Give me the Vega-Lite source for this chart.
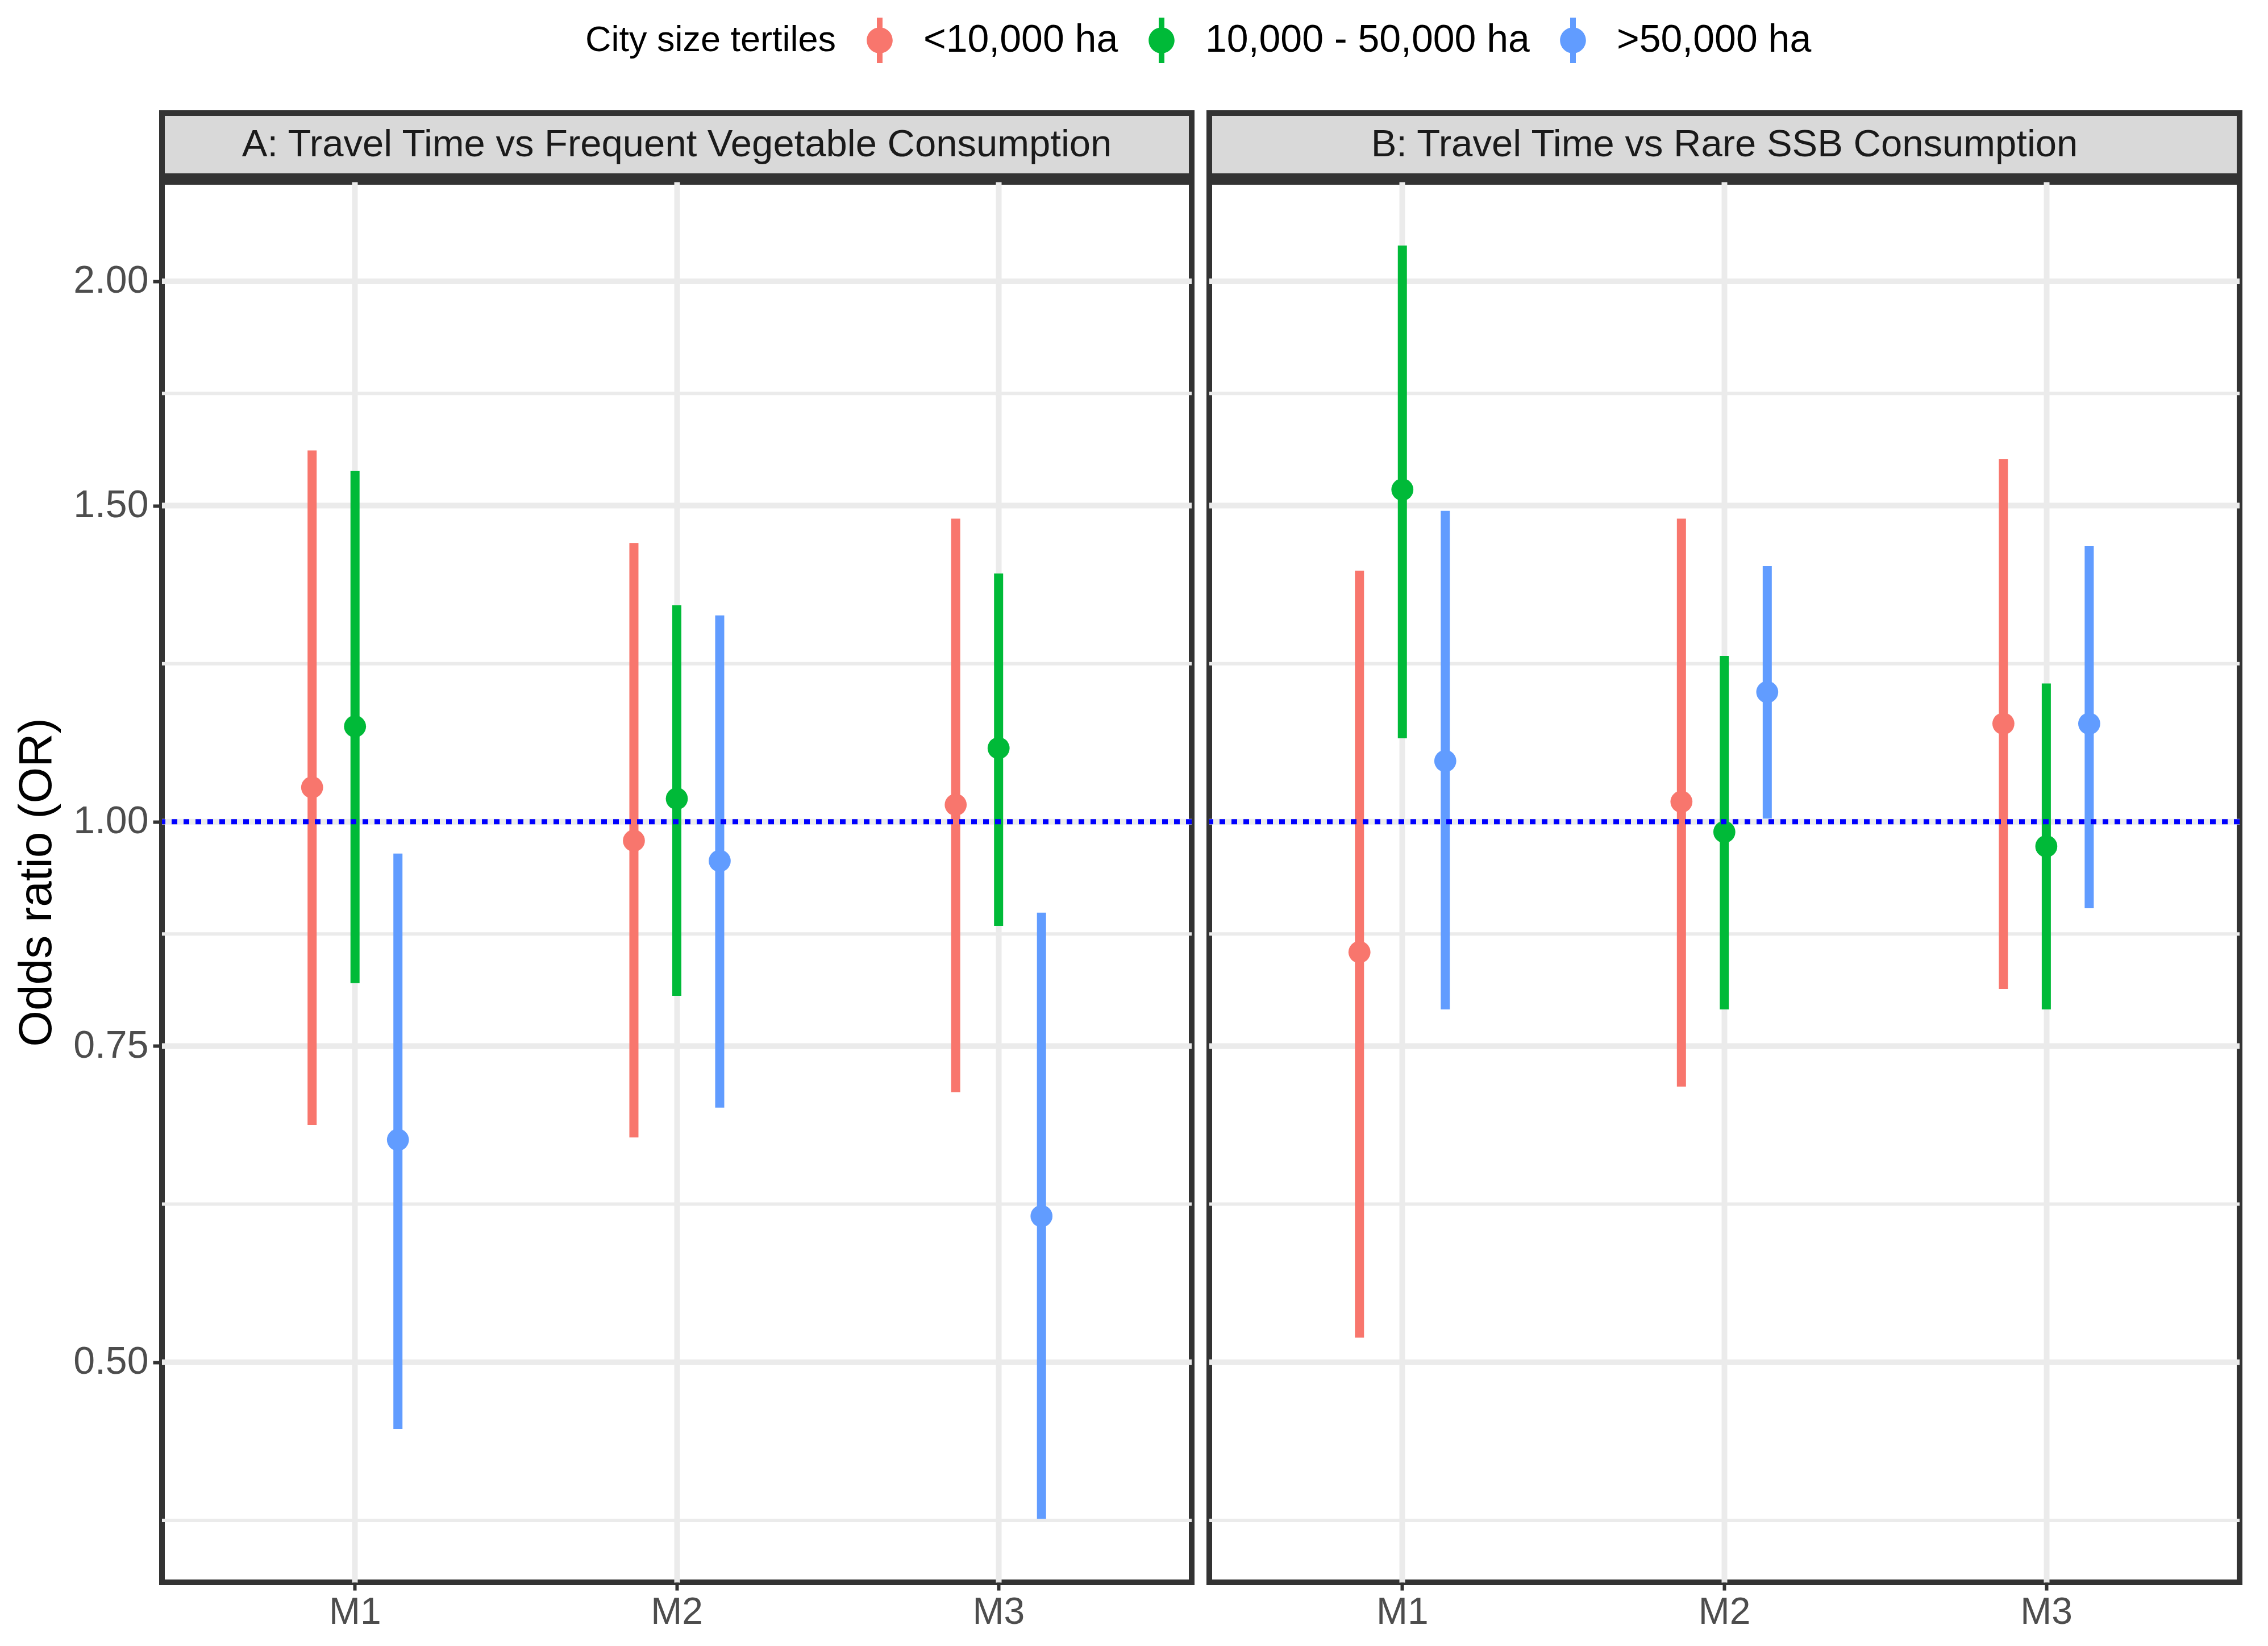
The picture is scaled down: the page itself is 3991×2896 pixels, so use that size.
{
  "$schema": "https://vega.github.io/schema/vega-lite/v6.json",
  "padding": {"left": 18, "top": 31, "right": 30, "bottom": 5},
  "background": "white",
  "datasets": {
    "est": [
      {"panel": "A", "model": "M1", "group": "<10,000 ha", "or": 1.045, "lo": 0.678, "hi": 1.61},
      {"panel": "A", "model": "M1", "group": "10,000 - 50,000 ha", "or": 1.13, "lo": 0.813, "hi": 1.568},
      {"panel": "A", "model": "M1", "group": ">50,000 ha", "or": 0.665, "lo": 0.459, "hi": 0.96},
      {"panel": "A", "model": "M2", "group": "<10,000 ha", "or": 0.976, "lo": 0.667, "hi": 1.43},
      {"panel": "A", "model": "M2", "group": "10,000 - 50,000 ha", "or": 1.03, "lo": 0.8, "hi": 1.32},
      {"panel": "A", "model": "M2", "group": ">50,000 ha", "or": 0.951, "lo": 0.693, "hi": 1.303},
      {"panel": "A", "model": "M3", "group": "<10,000 ha", "or": 1.022, "lo": 0.707, "hi": 1.475},
      {"panel": "A", "model": "M3", "group": "10,000 - 50,000 ha", "or": 1.099, "lo": 0.875, "hi": 1.375},
      {"panel": "A", "model": "M3", "group": ">50,000 ha", "or": 0.603, "lo": 0.409, "hi": 0.89},
      {"panel": "B", "model": "M1", "group": "<10,000 ha", "or": 0.846, "lo": 0.516, "hi": 1.38},
      {"panel": "B", "model": "M1", "group": "10,000 - 50,000 ha", "or": 1.531, "lo": 1.113, "hi": 2.094},
      {"panel": "B", "model": "M1", "group": ">50,000 ha", "or": 1.081, "lo": 0.786, "hi": 1.49},
      {"panel": "B", "model": "M2", "group": "<10,000 ha", "or": 1.026, "lo": 0.712, "hi": 1.475},
      {"panel": "B", "model": "M2", "group": "10,000 - 50,000 ha", "or": 0.987, "lo": 0.786, "hi": 1.237},
      {"panel": "B", "model": "M2", "group": ">50,000 ha", "or": 1.181, "lo": 1.004, "hi": 1.388},
      {"panel": "B", "model": "M3", "group": "<10,000 ha", "or": 1.134, "lo": 0.807, "hi": 1.592},
      {"panel": "B", "model": "M3", "group": "10,000 - 50,000 ha", "or": 0.969, "lo": 0.786, "hi": 1.194},
      {"panel": "B", "model": "M3", "group": ">50,000 ha", "or": 1.134, "lo": 0.895, "hi": 1.424}
    ],
    "grid": [
      {"v": 0.4082, "kind": "minor"},
      {"v": 0.5, "kind": "major"},
      {"v": 0.6124, "kind": "minor"},
      {"v": 0.75, "kind": "major"},
      {"v": 0.866, "kind": "minor"},
      {"v": 1.0, "kind": "major"},
      {"v": 1.2247, "kind": "minor"},
      {"v": 1.5, "kind": "major"},
      {"v": 1.7321, "kind": "minor"},
      {"v": 2.0, "kind": "major"}
    ],
    "ref": [{"v": 1.0}],
    "stripA": [{"label": "A: Travel Time vs Frequent Vegetable Consumption"}],
    "stripB": [{"label": "B: Travel Time vs Rare SSB Consumption"}]
  },
  "spacing": 11,
  "hconcat": [
    {
      "spacing": 0,
      "vconcat": [
        {
          "width": 1812, "height": 111,
          "view": {"fill": "#d9d9d9", "stroke": "#333333", "strokeWidth": 10},
          "data": {"name": "stripA"},
          "mark": {"type": "text", "fontSize": 67, "color": "#1a1a1a", "font": "Liberation Sans", "baseline": "middle"},
          "encoding": {"text": {"field": "label", "type": "nominal"}}
        },
        {
          "width": 1812, "height": 2464,
          "view": {"fill": "white", "stroke": "#333333", "strokeWidth": 10},
          "layer": [
            {
              "data": {"name": "grid"},
              "mark": {"type": "rule", "color": "#ebebeb"},
              "encoding": {
                "y": {"field": "v", "type": "quantitative", "scale": {"type": "log", "domain": [0.377, 2.272], "nice": false, "zero": false},
                  "axis": {"values": [0.5, 0.75, 1, 1.5, 2], "format": ".2f", "title": "Odds ratio (OR)", "grid": false, "domain": false,
                    "labelFontSize": 68, "labelColor": "#4d4d4d", "labelPadding": 8, "tickSize": 16, "tickWidth": 6, "tickColor": "#333333",
                    "titleFontSize": 82, "titleFontWeight": "normal", "titleColor": "black", "titlePadding": 22}},
                "strokeWidth": {"condition": {"test": "datum.kind === 'major'", "value": 10}, "value": 6}
              }
            },
            {
              "data": {"name": "est"},
              "transform": [{"filter": "datum.panel === 'A'"}],
              "mark": {"type": "rule", "strokeWidth": 16},
              "encoding": {
                "x": {"field": "model", "type": "nominal", "scale": {"type": "band", "paddingInner": 0, "paddingOuter": 0.1},
                  "axis": {"title": null, "labelAngle": 0, "labelFontSize": 66, "labelColor": "#4d4d4d", "labelPadding": 6, "tickSize": 14, "tickWidth": 6, "tickColor": "#333333", "domain": false, "grid": true, "gridColor": "#ebebeb", "gridWidth": 10, "bandPosition": 0.5}},
                "xOffset": {"field": "group", "type": "nominal", "scale": {"type": "point", "padding": 0, "domain": ["<10,000 ha", "10,000 - 50,000 ha", ">50,000 ha"], "range": [207.6, 358.6]}},
                "y": {"field": "lo", "type": "quantitative",
                  "axis": {"values": [0.5, 0.75, 1, 1.5, 2], "format": ".2f", "title": "Odds ratio (OR)", "grid": false, "domain": false,
                    "labelFontSize": 68, "labelColor": "#4d4d4d", "labelPadding": 8, "tickSize": 16, "tickWidth": 6, "tickColor": "#333333",
                    "titleFontSize": 82, "titleFontWeight": "normal", "titleColor": "black", "titlePadding": 22}},
                "y2": {"field": "hi"},
                "color": {"field": "group", "type": "nominal", "scale": {"domain": ["<10,000 ha", "10,000 - 50,000 ha", ">50,000 ha"], "range": ["#F8766D", "#00BA38", "#619CFF"]},
                  "legend": {"title": "City size tertiles", "orient": "none", "legendX": 745, "legendY": -168, "direction": "horizontal", "titleOrient": "left", "titleFontSize": 63, "titleFontWeight": "normal", "titleColor": "black", "titleBaseline": "middle", "titleLimit": 2000, "labelLimit": 2000, "labelFontSize": 68, "labelColor": "black", "symbolType": "M-0.125,-1L0.125,-1L0.125,1L-0.125,1Z M0.57,0A0.57,0.57,0,1,1,-0.57,0A0.57,0.57,0,1,1,0.57,0Z", "symbolSize": 6400, "symbolStrokeWidth": 0, "symbolOpacity": 1, "labelOffset": 37, "columnPadding": 36, "titlePadding": 36}}
              }
            },
            {
              "data": {"name": "est"},
              "transform": [{"filter": "datum.panel === 'A'"}],
              "mark": {"type": "point", "filled": true, "size": 1500, "opacity": 1, "strokeWidth": 0},
              "encoding": {
                "x": {"field": "model", "type": "nominal", "scale": {"type": "band", "paddingInner": 0, "paddingOuter": 0.1},
                  "axis": {"title": null, "labelAngle": 0, "labelFontSize": 66, "labelColor": "#4d4d4d", "labelPadding": 6, "tickSize": 14, "tickWidth": 6, "tickColor": "#333333", "domain": false, "grid": true, "gridColor": "#ebebeb", "gridWidth": 10, "bandPosition": 0.5}},
                "xOffset": {"field": "group", "type": "nominal", "scale": {"type": "point", "padding": 0, "domain": ["<10,000 ha", "10,000 - 50,000 ha", ">50,000 ha"], "range": [207.6, 358.6]}},
                "y": {"field": "or", "type": "quantitative",
                  "axis": {"values": [0.5, 0.75, 1, 1.5, 2], "format": ".2f", "title": "Odds ratio (OR)", "grid": false, "domain": false,
                    "labelFontSize": 68, "labelColor": "#4d4d4d", "labelPadding": 8, "tickSize": 16, "tickWidth": 6, "tickColor": "#333333",
                    "titleFontSize": 82, "titleFontWeight": "normal", "titleColor": "black", "titlePadding": 22}},
                "color": {"field": "group", "type": "nominal", "scale": {"domain": ["<10,000 ha", "10,000 - 50,000 ha", ">50,000 ha"], "range": ["#F8766D", "#00BA38", "#619CFF"]},
                  "legend": {"title": "City size tertiles", "orient": "none", "legendX": 745, "legendY": -168, "direction": "horizontal", "titleOrient": "left", "titleFontSize": 63, "titleFontWeight": "normal", "titleColor": "black", "titleBaseline": "middle", "titleLimit": 2000, "labelLimit": 2000, "labelFontSize": 68, "labelColor": "black", "symbolType": "M-0.125,-1L0.125,-1L0.125,1L-0.125,1Z M0.57,0A0.57,0.57,0,1,1,-0.57,0A0.57,0.57,0,1,1,0.57,0Z", "symbolSize": 6400, "symbolStrokeWidth": 0, "symbolOpacity": 1, "labelOffset": 37, "columnPadding": 36, "titlePadding": 36}}
              }
            },
            {
              "data": {"name": "ref"},
              "mark": {"type": "rule", "color": "#0000ff", "strokeWidth": 9, "strokeDash": [10, 11]},
              "encoding": {
                "y": {"field": "v", "type": "quantitative",
                  "axis": {"values": [0.5, 0.75, 1, 1.5, 2], "format": ".2f", "title": "Odds ratio (OR)", "grid": false, "domain": false,
                    "labelFontSize": 68, "labelColor": "#4d4d4d", "labelPadding": 8, "tickSize": 16, "tickWidth": 6, "tickColor": "#333333",
                    "titleFontSize": 82, "titleFontWeight": "normal", "titleColor": "black", "titlePadding": 22}}
              }
            }
          ]
        }
      ]
    },
    {
      "spacing": 0,
      "vconcat": [
        {
          "width": 1813, "height": 111,
          "view": {"fill": "#d9d9d9", "stroke": "#333333", "strokeWidth": 10},
          "data": {"name": "stripB"},
          "mark": {"type": "text", "fontSize": 67, "color": "#1a1a1a", "font": "Liberation Sans", "baseline": "middle"},
          "encoding": {"text": {"field": "label", "type": "nominal"}}
        },
        {
          "width": 1813, "height": 2464,
          "view": {"fill": "white", "stroke": "#333333", "strokeWidth": 10},
          "layer": [
            {
              "data": {"name": "grid"},
              "mark": {"type": "rule", "color": "#ebebeb"},
              "encoding": {
                "y": {"field": "v", "type": "quantitative", "scale": {"type": "log", "domain": [0.377, 2.272], "nice": false, "zero": false}, "axis": null},
                "strokeWidth": {"condition": {"test": "datum.kind === 'major'", "value": 10}, "value": 6}
              }
            },
            {
              "data": {"name": "est"},
              "transform": [{"filter": "datum.panel === 'B'"}],
              "mark": {"type": "rule", "strokeWidth": 16},
              "encoding": {
                "x": {"field": "model", "type": "nominal", "scale": {"type": "band", "paddingInner": 0, "paddingOuter": 0.1},
                  "axis": {"title": null, "labelAngle": 0, "labelFontSize": 66, "labelColor": "#4d4d4d", "labelPadding": 6, "tickSize": 14, "tickWidth": 6, "tickColor": "#333333", "domain": false, "grid": true, "gridColor": "#ebebeb", "gridWidth": 10, "bandPosition": 0.5}},
                "xOffset": {"field": "group", "type": "nominal", "scale": {"type": "point", "padding": 0, "domain": ["<10,000 ha", "10,000 - 50,000 ha", ">50,000 ha"], "range": [207.7, 358.7]}},
                "y": {"field": "lo", "type": "quantitative", "axis": null},
                "y2": {"field": "hi"},
                "color": {"field": "group", "type": "nominal", "scale": {"domain": ["<10,000 ha", "10,000 - 50,000 ha", ">50,000 ha"], "range": ["#F8766D", "#00BA38", "#619CFF"]},
                  "legend": {"title": "City size tertiles", "orient": "none", "legendX": 745, "legendY": -168, "direction": "horizontal", "titleOrient": "left", "titleFontSize": 63, "titleFontWeight": "normal", "titleColor": "black", "titleBaseline": "middle", "titleLimit": 2000, "labelLimit": 2000, "labelFontSize": 68, "labelColor": "black", "symbolType": "M-0.125,-1L0.125,-1L0.125,1L-0.125,1Z M0.57,0A0.57,0.57,0,1,1,-0.57,0A0.57,0.57,0,1,1,0.57,0Z", "symbolSize": 6400, "symbolStrokeWidth": 0, "symbolOpacity": 1, "labelOffset": 37, "columnPadding": 36, "titlePadding": 36}}
              }
            },
            {
              "data": {"name": "est"},
              "transform": [{"filter": "datum.panel === 'B'"}],
              "mark": {"type": "point", "filled": true, "size": 1500, "opacity": 1, "strokeWidth": 0},
              "encoding": {
                "x": {"field": "model", "type": "nominal", "scale": {"type": "band", "paddingInner": 0, "paddingOuter": 0.1},
                  "axis": {"title": null, "labelAngle": 0, "labelFontSize": 66, "labelColor": "#4d4d4d", "labelPadding": 6, "tickSize": 14, "tickWidth": 6, "tickColor": "#333333", "domain": false, "grid": true, "gridColor": "#ebebeb", "gridWidth": 10, "bandPosition": 0.5}},
                "xOffset": {"field": "group", "type": "nominal", "scale": {"type": "point", "padding": 0, "domain": ["<10,000 ha", "10,000 - 50,000 ha", ">50,000 ha"], "range": [207.7, 358.7]}},
                "y": {"field": "or", "type": "quantitative", "axis": null},
                "color": {"field": "group", "type": "nominal", "scale": {"domain": ["<10,000 ha", "10,000 - 50,000 ha", ">50,000 ha"], "range": ["#F8766D", "#00BA38", "#619CFF"]},
                  "legend": {"title": "City size tertiles", "orient": "none", "legendX": 745, "legendY": -168, "direction": "horizontal", "titleOrient": "left", "titleFontSize": 63, "titleFontWeight": "normal", "titleColor": "black", "titleBaseline": "middle", "titleLimit": 2000, "labelLimit": 2000, "labelFontSize": 68, "labelColor": "black", "symbolType": "M-0.125,-1L0.125,-1L0.125,1L-0.125,1Z M0.57,0A0.57,0.57,0,1,1,-0.57,0A0.57,0.57,0,1,1,0.57,0Z", "symbolSize": 6400, "symbolStrokeWidth": 0, "symbolOpacity": 1, "labelOffset": 37, "columnPadding": 36, "titlePadding": 36}}
              }
            },
            {
              "data": {"name": "ref"},
              "mark": {"type": "rule", "color": "#0000ff", "strokeWidth": 9, "strokeDash": [10, 11]},
              "encoding": {"y": {"field": "v", "type": "quantitative", "axis": null}}
            }
          ]
        }
      ]
    }
  ],
  "config": {
    "font": "Liberation Sans"
  }
}
